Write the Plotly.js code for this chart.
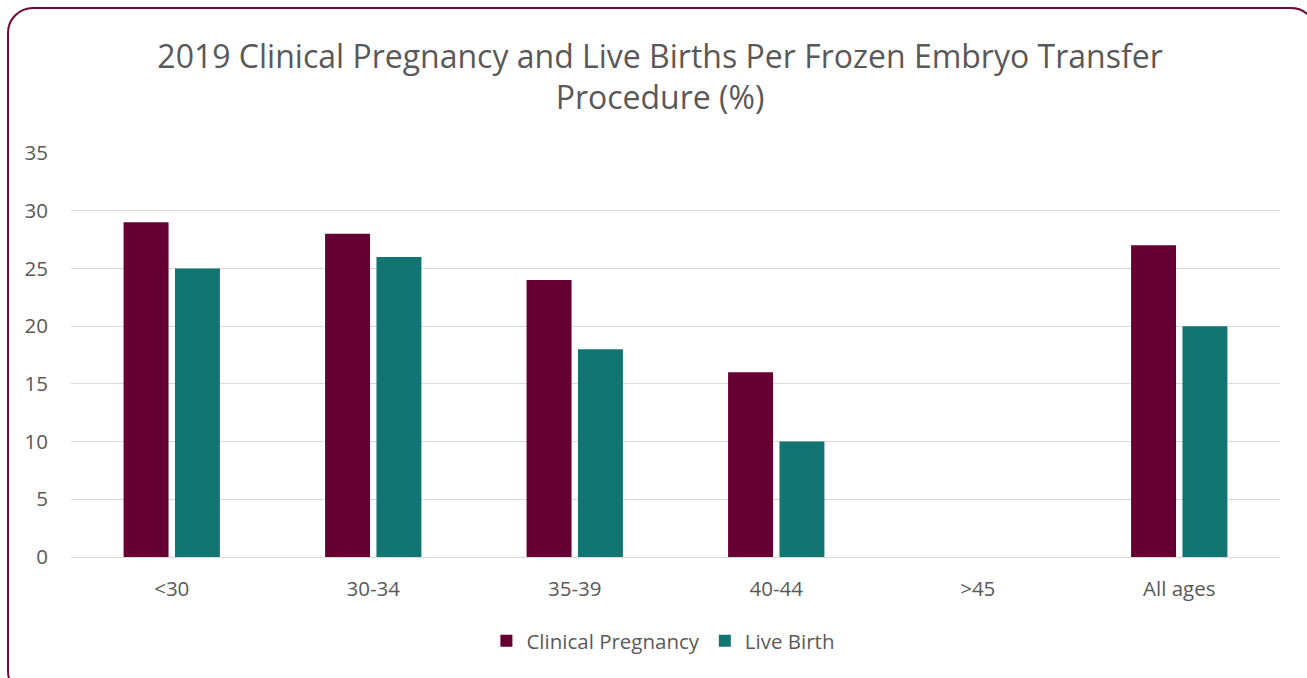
<!DOCTYPE html>
<html>
<head>
<meta charset="utf-8">
<script src="https://cdn.plot.ly/plotly-3.0.1.min.js"></script>
<style>
html,body{margin:0;padding:0;background:#fff;}
#wrap{position:relative;width:1307px;height:678px;overflow:hidden;}
#chart{position:absolute;left:0;top:0;width:1307px;height:678px;}
#frame{position:absolute;left:7px;top:7px;width:1310px;height:690px;border:2.5px solid #6b0a3c;border-radius:26px;box-sizing:border-box;pointer-events:none;}
</style>
</head>
<body>
<div id="wrap">
<div id="chart"></div>
<div id="frame"></div>
</div>
<script>
const categories = ["<30", "30-34", "35-39", "40-44", ">45", "All ages"];
const clinicalPregnancy = [29, 28, 24, 16, null, 27];
const liveBirth = [25, 26, 18, 10, null, 20];
const yTicks = [0, 5, 10, 15, 20, 25, 30, 35];

const font = "'Open Sans', sans-serif";
const data = [
  {type: "bar", name: "Clinical Pregnancy", x: categories, y: clinicalPregnancy, marker: {color: "#660033"}},
  {type: "bar", name: "Live Birth", x: categories, y: liveBirth, marker: {color: "#137572"}}
];
const layout = {
  width: 1307, height: 678,
  paper_bgcolor: "#ffffff", plot_bgcolor: "#ffffff",
  margin: {l: 71, r: 27, t: 153, b: 121},
  font: {family: font, color: "#595959", size: 20.5},
  title: {text: "2019 Clinical Pregnancy and Live Births Per Frozen Embryo Transfer<br>Procedure (%)",
          font: {family: font, size: 32, color: "#595959"}, x: 0.505, xanchor: "center", y: 0.90, yanchor: "top"},
  barmode: "group", bargap: 0.49, bargroupgap: 0.125,
  xaxis: {type: "category", showgrid: false, showline: false, ticks: "", zeroline: false,
          tickfont: {size: 20.5, color: "#595959"}, ticklabelstandoff: 17},
  yaxis: {range: [0, 35], tickvals: yTicks, showgrid: true, gridcolor: "#d9d9d9", gridwidth: 1,
          zeroline: true, zerolinecolor: "#d9d9d9", zerolinewidth: 1, showline: false, ticks: "",
          tickfont: {size: 20.5, color: "#595959"}, ticklabelstandoff: 22},
  showlegend: true,
  legend: {orientation: "h", x: 0.49, xanchor: "center", y: -0.208, yanchor: "middle",
           font: {size: 20.5, color: "#595959"}, traceorder: "normal"}
};
Plotly.newPlot("chart", data, layout, {displayModeBar: false, staticPlot: true});
</script>
</body>
</html>
